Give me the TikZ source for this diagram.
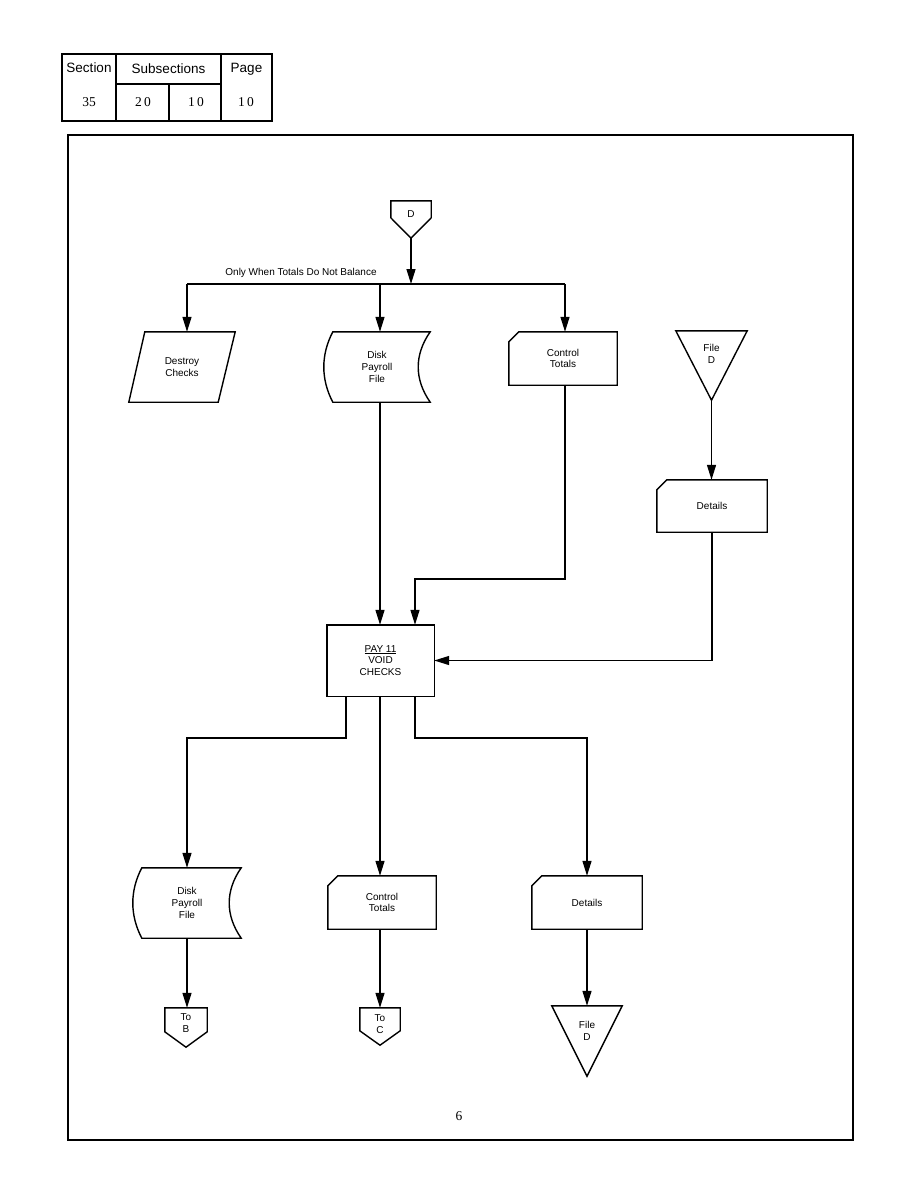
\documentclass[tikz,border=0pt]{standalone}
\usepackage{fontspec}
\setmainfont{Liberation Serif}
\newfontfamily\hv{Liberation Sans}
\usetikzlibrary{arrows.meta,calc}
\tikzset{
  fc/.style={font=\hv\fontsize{10}{11.7}\selectfont, align=center},
  shp/.style={fc, inner sep=0pt, minimum width=#1},
  ln/.style={line width=1.4pt},
  arr/.style={ln, -{Triangle[length=15pt,width=9pt]}},
  hd/.style={font=\hv\fontsize{13.5}{15}\selectfont},
  num/.style={font=\fontsize{13.5}{15}\selectfont},
}
\newcommand\cardoutline[1]{\draw[ln] ($(#1.north west)+(10,0)$) -- (#1.north east) -- (#1.south east) -- (#1.south west) -- ($(#1.north west)+(0,10)$) -- cycle;}
\newcommand\diskoutline[1]{\draw[ln] ($(#1.north west)+(9,0)$) -- (#1.north east) .. controls ($(#1.north east)+(-16,23)$) and ($(#1.south east)+(-16,-23)$) .. (#1.south east) -- ($(#1.south west)+(9,0)$) .. controls ($(#1.south west)+(-3,-23)$) and ($(#1.north west)+(-3,23)$) .. ($(#1.north west)+(9,0)$) -- cycle;}
\newcommand\triout[1]{\draw[ln] (#1.north west) -- (#1.north east) -- (#1.south) -- cycle;}
\newcommand\penta[2]{\draw[ln] (#1.north west) -- (#1.north east) -- ($(#1.north east)+(0,#2)$) -- (#1.south) -- ($(#1.north west)+(0,#2)$) -- cycle;}
\begin{document}
\begin{tikzpicture}[x=1pt,y=-1pt]
\useasboundingbox (0,0) rectangle (918,1188);
\fill[white] (0,0) rectangle (918,1188);
% header table
\draw[line width=1.5pt] (62,54) rectangle (272,121);
\draw[line width=1.5pt] (116,54) -- (116,121) (221,54) -- (221,121) (116,84) -- (221,84) (169,84) -- (169,121);
\node[hd] (hsec) at (89,68) {Section};
\node[hd] (hsub) at (168.5,69) {Subsections};
\node[hd] (hpage) at (246.5,69) {Page};
\node[num] (n35) at (89,102) {35};
\node[num] (n20) at (143,102) {2\,0};
\node[num] (n10a) at (196,102) {1\,0};
\node[num] (n10b) at (246,102) {1\,0};
% frame
\draw[line width=1.3pt] (68,135) rectangle (853,1140);
% connector D
\node[shp=40, minimum height=37] (d) at (411,219.5) {};
\penta{d}{17}
\node[fc] (dlab) at (411,214) {D};
% bus
\coordinate (bus) at (411,284);
\coordinate (busL) at (187,284);
\coordinate (busR) at (565,284);
\node[fc, anchor=center] (buslab) at (301,273) {Only When Totals Do Not Balance};
% top row
\node[shp=106, minimum height=70] (destroy) at (182,367) {Destroy\\Checks};
\draw[ln] ($(destroy.north west)+(16,0)$) -- (destroy.north east) -- ($(destroy.south east)+(-17,0)$) -- (destroy.south west) -- cycle;
\node[shp=106, minimum height=70] (disk1) at (377,367) {Disk\\Payroll\\File};
\diskoutline{disk1}
\node[shp=108, minimum height=53] (ct1) at (563,358.5) {Control\\Totals};
\cardoutline{ct1}
\node[shp=71, minimum height=69] (fd1) at (711.5,365.5) {};
\triout{fd1}
\node[fc] (fd1lab) at (711.5,354) {File\\D};
\node[shp=110, minimum height=52] (det1) at (712,506) {Details};
\cardoutline{det1}
% process
\node[shp=107, minimum height=71] (pay) at (380.5,660.5) {\underline{PAY 11}\\VOID\\CHECKS};
\draw[ln] (pay.north west) rectangle (pay.south east);
% bottom row
\node[shp=108, minimum height=70] (disk2) at (187,903) {Disk\\Payroll\\File};
\diskoutline{disk2}
\node[shp=108, minimum height=53] (ct2) at (382,902.5) {Control\\Totals};
\cardoutline{ct2}
\node[shp=110, minimum height=53] (det2) at (587,902.5) {Details};
\cardoutline{det2}
\node[shp=42, minimum height=39] (tob) at (186,1027.5) {};
\penta{tob}{24}
\node[fc] (toblab) at (186,1023) {To\\B};
\node[shp=40, minimum height=37] (toc) at (380,1026.5) {};
\penta{toc}{23}
\node[fc] (toclab) at (380,1024) {To\\C};
\node[shp=70, minimum height=70] (fd2) at (587,1041) {};
\triout{fd2}
\node[fc] (fd2lab) at (587,1031) {File\\D};
% page number
\node[num] (pg) at (459,1116) {6};
% connectors
\draw[arr] (d.south) -- (bus);
\draw[ln] (busL) -- (busR);
\draw[arr] (busL) -- (busL |- destroy.north);
\draw[arr] ([xshift=3pt]disk1.north |- busL) -- ([xshift=3pt]disk1.north);
\draw[arr] (busR) -- (busR |- ct1.north);
\draw[arr] ([xshift=3pt]disk1.south) -- ([xshift=3pt]disk1.south |- pay.north);
\coordinate (j1) at (415,579);
\draw[arr] ([xshift=2pt]ct1.south) |- (j1) -- (j1 |- pay.north);
\draw[arr] (fd1.south) -- (fd1.south |- det1.north);
\draw[arr] (det1.south) |- (pay.east);
\coordinate (j2) at (187,738);
\coordinate (j3) at (587,738);
\draw[arr] ([xshift=-34.5pt]pay.south) |- (j2) -- (disk2.north);
\draw[arr] ([xshift=-0.5pt]pay.south) -- ([xshift=-0.5pt]pay.south |- ct2.north);
\draw[arr] ([xshift=34.5pt]pay.south) |- (j3) -- (det2.north);
\draw[arr] (disk2.south) -- (disk2.south |- tob.north);
\draw[arr] (toc.north |- ct2.south) -- (toc.north);
\draw[arr] (det2.south) -- (fd2.north);
\end{tikzpicture}
\end{document}
